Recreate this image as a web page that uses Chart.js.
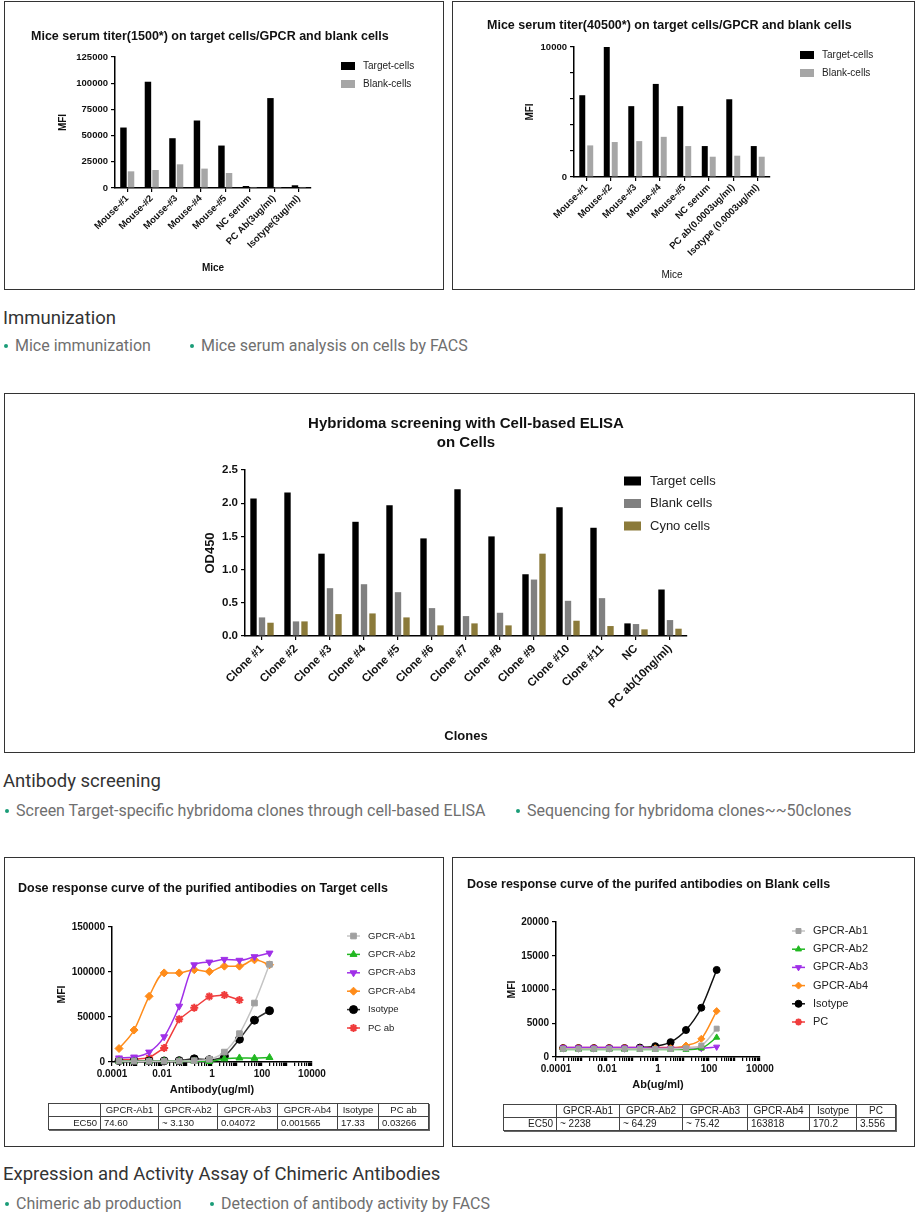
<!DOCTYPE html>
<html>
<head>
<meta charset="utf-8">
<script src="https://cdn.jsdelivr.net/npm/chart.js@4.4.1/dist/chart.umd.min.js"></script>
<style>
  body { margin: 0; background: #fff; font-family: Roboto, 'Noto Sans', sans-serif; }
  #page { position: relative; width: 919px; height: 1218px; overflow: hidden; }
  .panel { position: absolute; box-sizing: border-box; border: 1px solid #333; background: #fff; }
  .panel canvas { position: absolute; left: 0; top: 0; }
  .ctitle { position: absolute; font: bold 12.5px 'Liberation Sans', Arial, sans-serif; color: #111; white-space: nowrap; line-height: 16px; }
  .sec { position: absolute; left: 3px; font-size: 18.5px; color: #333; line-height: 22px; white-space: nowrap; }
  .bul { position: absolute; font-size: 16px; color: #6f6f6f; line-height: 20px; white-space: nowrap; }
  .bul::before { content: ''; display: inline-block; width: 4px; height: 4px; border-radius: 50%; background: #1a9c78; margin-right: 7px; vertical-align: middle; position: relative; top: -1px; }
  table.ec { position: absolute; border-collapse: collapse; table-layout: fixed; font: 9.5px 'Liberation Sans', Arial, sans-serif; color: #222; border: 1.5px solid #222; box-shadow: 1px 1px 0 #666; }
  table.ec td { border: 1px solid #444; height: 12px; line-height: 12px; padding: 0 3px; white-space: nowrap; overflow: hidden; }
  table.ec tr:first-child td { text-align: center; }
  table.ec td.rh { text-align: right; }
</style>
</head>
<body>
<div id="page">
  <div class="panel" style="left:4px;top:1px;width:440px;height:289px"><canvas id="c1" width="438" height="287"></canvas></div>
  <div class="ctitle" style="left:31px;top:28px">Mice serum titer(1500*) on target cells/GPCR and blank cells</div>

  <div class="panel" style="left:452px;top:1px;width:463px;height:289px"><canvas id="c2" width="461" height="287"></canvas></div>
  <div class="ctitle" style="left:487px;top:17px">Mice serum titer(40500*) on target cells/GPCR and blank cells</div>

  <div class="sec" style="top:307px">Immunization</div>
  <span class="bul" style="left:4px;top:336px">Mice immunization</span>
  <span class="bul" style="left:190px;top:336px">Mice serum analysis on cells by FACS</span>

  <div class="panel" style="left:4px;top:393px;width:911px;height:360px"><canvas id="c3" width="909" height="358"></canvas></div>
  <div class="ctitle" style="left:216px;top:413px;width:500px;text-align:center;font-size:15px;line-height:19px">Hybridoma screening with Cell-based ELISA<br>on Cells</div>

  <div class="sec" style="top:770px">Antibody screening</div>
  <span class="bul" style="left:5px;top:801px">Screen Target-specific hybridoma clones through cell-based ELISA</span>
  <span class="bul" style="left:516px;top:801px">Sequencing for hybridoma clones~~50clones</span>

  <div class="panel" style="left:4px;top:857px;width:440px;height:290px"><canvas id="c4" width="438" height="288"></canvas></div>
  <div class="ctitle" style="left:18px;top:880px">Dose response curve of the purified antibodies on Target cells</div>
  <table class="ec" id="t4" style="left:48px;top:1103px;width:380px"></table>

  <div class="panel" style="left:452px;top:857px;width:463px;height:290px"><canvas id="c5" width="461" height="288"></canvas></div>
  <div class="ctitle" style="left:467px;top:876px">Dose response curve of the purifed antibodies on Blank cells</div>
  <table class="ec" id="t5" style="left:503px;top:1104px;width:392px;font-size:10px"></table>

  <div class="sec" style="top:1163px">Expression and Activity Assay of Chimeric Antibodies</div>
  <span class="bul" style="left:5px;top:1194px">Chimeric ab production</span>
  <span class="bul" style="left:210px;top:1194px">Detection of antibody activity by FACS</span>
</div>

<script>
// ---- data ----
const miceLabels1500 = ['Mouse-#1', 'Mouse-#2', 'Mouse-#3', 'Mouse-#4', 'Mouse-#5', 'NC serum', 'PC Ab(3ug/ml)', 'Isotype(3ug/ml)'];
const target1500 = [57700, 101400, 47500, 64400, 40500, 1900, 85800, 2600];
const blank1500 = [15900, 17200, 22600, 18500, 14300, 1000, 1000, 1000];
const mfiTicks1500 = ['0', '25000', '50000', '75000', '100000', '125000'];

const miceLabels40500 = ['Mouse-#1', 'Mouse-#2', 'Mouse-#3', 'Mouse-#4', 'Mouse-#5', 'NC serum', 'PC ab(0.0003ug/ml)', 'Isotype (0.0003ug/ml)'];
const target40500 = [6290, 10000, 5450, 7160, 5450, 2380, 5980, 2380];
const blank40500 = [2430, 2690, 2760, 3090, 2380, 1560, 1640, 1560];

const clones = ['Clone #1', 'Clone #2', 'Clone #3', 'Clone #4', 'Clone #5', 'Clone #6', 'Clone #7', 'Clone #8', 'Clone #9', 'Clone #10', 'Clone #11', 'NC', 'PC ab(10ng/ml)'];
const odTarget = [2.07, 2.16, 1.24, 1.72, 1.97, 1.47, 2.21, 1.50, 0.93, 1.94, 1.63, 0.19, 0.70];
const odBlank = [0.28, 0.22, 0.72, 0.78, 0.66, 0.42, 0.30, 0.35, 0.85, 0.53, 0.57, 0.18, 0.24];
const odCyno = [0.20, 0.22, 0.33, 0.34, 0.28, 0.16, 0.19, 0.16, 1.24, 0.23, 0.15, 0.10, 0.11];
const odTicks = ['0.0', '0.5', '1.0', '1.5', '2.0', '2.5'];

// antibody concentration series (ug/ml), lowest to highest
const doses = [0.000191, 0.000763, 0.00305, 0.0122, 0.0488, 0.195, 0.781, 3.125, 12.5, 50, 200];
const logTickLabels = ['0.0001', '0.01', '1', '100', '10000'];

const tgtAb1 = [1000, 900, 800, 900, 1000, 1500, 3000, 11000, 31500, 65500, 108500];
const tgtAb2 = [800, 700, 700, 800, 800, 900, 600, 3500, 4500, 4200, 5000];
const tgtAb3 = [4500, 5500, 11000, 28000, 62000, 108000, 111000, 114000, 113000, 117000, 121000];
const tgtAb4 = [15000, 35500, 73000, 99000, 99000, 102500, 100500, 106500, 106500, 113500, 108000];
const tgtIso = [1500, 1500, 1200, 1200, 1500, 3500, 2500, 6500, 25300, 46500, 57000];
const tgtPC = [2500, 3000, 4500, 15600, 47600, 60300, 72900, 74400, 68800, null, null];

const blkAb1 = [1200, 1200, 1200, 1200, 1200, 1200, 1200, 1200, 1300, 1700, 4200];
const blkAb2 = [1100, 1100, 1100, 1100, 1100, 1100, 1100, 1100, 1100, 1300, 2900];
const blkAb3 = [1400, 1400, 1400, 1400, 1400, 1400, 1300, 1300, 1300, 1300, 1500];
const blkAb4 = [1300, 1300, 1300, 1300, 1300, 1300, 1300, 1300, 1700, 2700, 6800];
const blkIso = [1300, 1300, 1300, 1300, 1300, 1400, 1600, 2200, 4000, 7300, 12900];
const blkPC = [1400, 1400, 1400, 1400, 1400, 1400, 1400, 1400, 1400, 1400, null];

const ec50Heads4 = ['GPCR-Ab1', 'GPCR-Ab2', 'GPCR-Ab3', 'GPCR-Ab4', 'Isotype', 'PC ab'];
const ec50Target = ['74.60', '~ 3.130', '0.04072', '0.001565', '17.33', '0.03266'];
const ec50Heads5 = ['GPCR-Ab1', 'GPCR-Ab2', 'GPCR-Ab3', 'GPCR-Ab4', 'Isotype', 'PC'];
const ec50Blank = ['~ 2238', '~ 64.29', '~ 75.42', '163818', '170.2', '3.556'];

// ---- shared setup ----
Chart.defaults.font.family = "'Liberation Sans', Arial, sans-serif";
Chart.defaults.color = '#111';
Chart.defaults.animation = false;

const ARIAL = "'Liberation Sans', Arial, sans-serif";

// legend drawn at a fixed spot beside the plot, from the datasets themselves
const sideLegend = {
  id: 'sideLegend',
  afterDraw(chart, args, o) {
    const ctx = chart.ctx;
    ctx.save();
    ctx.font = o.fontStr;
    ctx.textBaseline = 'middle';
    ctx.textAlign = 'left';
    chart.data.datasets.forEach((ds, i) => {
      const y = o.y + i * o.rowH;
      if (o.kind === 'box') {
        ctx.fillStyle = ds.backgroundColor;
        ctx.fillRect(o.x, y - o.boxH / 2, o.boxW, o.boxH);
      } else {
        ctx.strokeStyle = ds.borderColor;
        ctx.lineWidth = ds.borderWidth;
        ctx.beginPath();
        ctx.moveTo(o.x, y);
        ctx.lineTo(o.x + o.boxW, y);
        ctx.stroke();
        ctx.fillStyle = ds.pointBackgroundColor;
        ctx.strokeStyle = ds.pointBorderColor;
        ctx.lineWidth = ds.pointBorderWidth;
        Chart.helpers.drawPoint(ctx, {
          pointStyle: ds.pointStyle, rotation: ds.pointRotation || 0,
          radius: ds.pointRadius, borderWidth: ds.pointBorderWidth
        }, o.x + o.boxW / 2, y);
      }
      ctx.fillStyle = '#222';
      ctx.fillText(ds.label, o.textX, y);
    });
    ctx.restore();
  }
};

function axis(extra) {
  return Object.assign({
    border: { display: true, color: '#000', width: 1.5 },
    grid: { display: true, drawOnChartArea: false, drawTicks: true, tickLength: 4, color: '#000', lineWidth: 1.2, offset: false },
  }, extra);
}

function titleOpt(text, size, pad, bold) {
  return { display: true, text: text, color: '#111', font: { size: size, weight: bold === false ? 'normal' : 'bold' }, padding: pad };
}

// ---- Chart 1: titer 1500x ----
new Chart(document.getElementById('c1'), {
  type: 'bar',
  data: {
    labels: miceLabels1500,
    datasets: [
      { label: 'Target-cells', data: target1500, backgroundColor: '#000' },
      { label: 'Blank-cells', data: blank1500, backgroundColor: '#a6a6a6' }
    ]
  },
  options: {
    responsive: false,
    layout: { padding: { top: 55, right: 132, left: 0, bottom: 0 } },
    datasets: { bar: { barPercentage: 0.85, categoryPercentage: 0.62 } },
    plugins: {
      legend: { display: false }, tooltip: { enabled: false },
      sideLegend: { kind: 'box', x: 336, boxW: 14, boxH: 8, textX: 358, y: 64, rowH: 18, fontStr: '10px ' + ARIAL }
    },
    scales: {
      x: axis({
        ticks: { autoSkip: false, minRotation: 45, maxRotation: 45, padding: 1, color: '#111', font: { size: 9.5, weight: 'bold' } },
        title: titleOpt('Mice', 10, { top: 0, bottom: 15 }),
        afterFit: s => { s.height = 101; }
      }),
      y: axis({
        min: 0, max: 125000,
        ticks: { stepSize: 25000, padding: 3, color: '#111', font: { size: 9.5, weight: 'bold' }, callback: (v, i) => mfiTicks1500[i] },
        title: titleOpt('MFI', 10, { top: 52, bottom: 0 }),
        afterFit: s => { s.width = 110; }
      })
    }
  },
  plugins: [sideLegend]
});

// ---- Chart 2: titer 40500x ----
new Chart(document.getElementById('c2'), {
  type: 'bar',
  data: {
    labels: miceLabels40500,
    datasets: [
      { label: 'Target-cells', data: target40500, backgroundColor: '#000' },
      { label: 'Blank-cells', data: blank40500, backgroundColor: '#a6a6a6' }
    ]
  },
  options: {
    responsive: false,
    layout: { padding: { top: 45, right: 144, left: 0, bottom: 0 } },
    datasets: { bar: { barPercentage: 0.75, categoryPercentage: 0.65 } },
    plugins: {
      legend: { display: false }, tooltip: { enabled: false },
      sideLegend: { kind: 'box', x: 347, boxW: 14, boxH: 8, textX: 369, y: 53, rowH: 18, fontStr: '10px ' + ARIAL }
    },
    scales: {
      x: axis({
        ticks: { autoSkip: false, minRotation: 45, maxRotation: 45, padding: 1, color: '#111', font: { size: 9.5, weight: 'bold' } },
        title: titleOpt('Mice', 10, { top: 0, bottom: 8 }, false),
        afterFit: s => { s.height = 112; }
      }),
      y: axis({
        min: 0, max: 10000,
        ticks: { stepSize: 1000, padding: 3, color: '#111', font: { size: 9.5, weight: 'bold' }, callback: v => (v % 5000 === 0 ? String(v) : '') },
        title: titleOpt('MFI', 10, { top: 71, bottom: 0 }),
        afterFit: s => { s.width = 121; }
      })
    }
  },
  plugins: [sideLegend]
});

// ---- Chart 3: hybridoma ELISA ----
new Chart(document.getElementById('c3'), {
  type: 'bar',
  data: {
    labels: clones,
    datasets: [
      { label: 'Target cells', data: odTarget, backgroundColor: '#000' },
      { label: 'Blank cells', data: odBlank, backgroundColor: '#808080' },
      { label: 'Cyno cells', data: odCyno, backgroundColor: '#8b7a3a' }
    ]
  },
  options: {
    responsive: false,
    layout: { padding: { top: 76, right: 227, left: 0, bottom: 0 } },
    datasets: { bar: { barPercentage: 0.75, categoryPercentage: 0.75 } },
    plugins: {
      legend: { display: false }, tooltip: { enabled: false },
      sideLegend: { kind: 'box', x: 619, boxW: 17, boxH: 9, textX: 645, y: 87, rowH: 22.5, fontStr: '13px ' + ARIAL }
    },
    scales: {
      x: axis({
        ticks: { autoSkip: false, minRotation: 45, maxRotation: 45, padding: 2, color: '#111', font: { size: 11.5, weight: 'bold' } },
        title: titleOpt('Clones', 13, { top: 0, bottom: 8 }),
        afterFit: s => { s.height = 116; }
      }),
      y: axis({
        min: 0, max: 2.5,
        ticks: { stepSize: 0.5, padding: 3, color: '#111', font: { size: 11.5, weight: 'bold' }, callback: (v, i) => odTicks[i] },
        title: titleOpt('OD450', 13, { top: 198, bottom: 0 }),
        afterFit: s => { s.width = 240; }
      })
    }
  },
  plugins: [sideLegend]
});

// ---- dose response helpers ----
function pts(vals) {
  return doses.map((d, i) => ({ x: d, y: vals[i] }));
}

function logTicks() {
  const out = [];
  for (let e = -4; e <= 3; e++) {
    for (let m = 1; m <= 9; m++) out.push(parseFloat((m * Math.pow(10, e)).toPrecision(3)));
  }
  out.push(10000);
  return out.map(v => ({ value: v }));
}

function logLabel(v) {
  const hit = logTickLabels.find(l => Math.abs(parseFloat(l) - v) < v * 1e-6);
  return hit || '';
}

function series(label, vals, line, mark, style, r, extra) {
  return Object.assign({
    label: label, data: pts(vals),
    borderColor: line, backgroundColor: mark, borderWidth: 1.5,
    pointStyle: style, pointRadius: r, pointBackgroundColor: mark, pointBorderColor: mark, pointBorderWidth: 1,
    cubicInterpolationMode: 'monotone', clip: false
  }, extra || {});
}

function doseChart(id, sets, o) {
  return new Chart(document.getElementById(id), {
    type: 'line',
    data: { datasets: sets },
    options: {
      responsive: false,
      layout: { padding: { top: o.top, right: o.right, left: 0, bottom: 0 } },
      plugins: {
        legend: { display: false }, tooltip: { enabled: false },
        sideLegend: { kind: 'line', x: o.legX, boxW: 13, textX: o.legTextX, y: o.legY, rowH: o.legRow, fontStr: o.legFont + 'px ' + ARIAL }
      },
      scales: {
        x: axis({
          type: 'logarithmic', min: 0.0001, max: 10000,
          afterBuildTicks: s => { s.ticks = logTicks(); },
          ticks: { autoSkip: false, maxRotation: 0, padding: 2, color: '#111', font: { size: 10, weight: 'bold' }, callback: v => logLabel(v) },
          title: titleOpt(o.xTitle, 11, { top: 0, bottom: o.xPad }),
          afterFit: s => { s.height = o.xH; }
        }),
        y: axis({
          min: 0, max: o.yMax,
          ticks: { stepSize: o.yStep, padding: 3, color: '#111', font: { size: 10, weight: 'bold' }, callback: v => String(v) },
          title: titleOpt('MFI', 10.5, { top: o.yPad, bottom: 0 }),
          afterFit: s => { s.width = o.yW; }
        })
      }
    },
    plugins: [sideLegend]
  });
}

// ---- Chart 4: target cells ----
doseChart('c4', [
  series('GPCR-Ab1', tgtAb1, '#c4c4c4', '#a0a0a0', 'rect', 4),
  series('GPCR-Ab2', tgtAb2, '#22b822', '#22b822', 'triangle', 4),
  series('GPCR-Ab3', tgtAb3, '#a030e8', '#a030e8', 'triangle', 4, { pointRotation: 180 }),
  series('GPCR-Ab4', tgtAb4, '#ff8c1a', '#ff8c1a', 'rectRot', 4),
  series('Isotype', tgtIso, '#333', '#000', 'circle', 4),
  series('PC ab', tgtPC, '#f03c3c', '#f03c3c', 'star', 4, { cubicInterpolationMode: 'default', tension: 0, pointBorderWidth: 2 })
], {
  top: 69, right: 131, yW: 107, yPad: 51, xH: 84, xPad: 49, yMax: 150000, yStep: 50000,
  xTitle: 'Antibody(ug/ml)', legX: 342, legTextX: 363, legY: 78, legRow: 18.4, legFont: 9.5
});

// ---- Chart 5: blank cells ----
doseChart('c5', [
  series('GPCR-Ab1', blkAb1, '#c4c4c4', '#a0a0a0', 'rect', 3.5),
  series('GPCR-Ab2', blkAb2, '#22b822', '#22b822', 'triangle', 3.5),
  series('GPCR-Ab3', blkAb3, '#a030e8', '#a030e8', 'triangle', 3.5, { pointRotation: 180 }),
  series('GPCR-Ab4', blkAb4, '#ff8c1a', '#ff8c1a', 'rectRot', 3.5),
  series('Isotype', blkIso, '#111', '#000', 'circle', 3.5),
  series('PC', blkPC, '#f03c3c', '#f03c3c', 'star', 3.5, { cubicInterpolationMode: 'default', tension: 0, pointBorderWidth: 2 })
], {
  top: 64, right: 154, yW: 103, yPad: 52.7, xH: 89, xPad: 54.4, yMax: 20000, yStep: 5000,
  xTitle: 'Ab(ug/ml)', legX: 339, legTextX: 360, legY: 73, legRow: 18.2, legFont: 11
});

// ---- EC50 tables ----
function fillTable(id, heads, vals, widths) {
  const t = document.getElementById(id);
  const cg = document.createElement('colgroup');
  widths.forEach(w => { const c = document.createElement('col'); c.style.width = w + 'px'; cg.appendChild(c); });
  t.appendChild(cg);
  const r1 = t.insertRow();
  r1.insertCell().textContent = '';
  heads.forEach(h => { r1.insertCell().textContent = h; });
  const r2 = t.insertRow();
  const c0 = r2.insertCell();
  c0.textContent = 'EC50';
  c0.className = 'rh';
  vals.forEach(v => { r2.insertCell().textContent = v; });
}
fillTable('t4', ec50Heads4, ec50Target, [52, 58, 59, 60, 60, 41, 50]);
fillTable('t5', ec50Heads5, ec50Blank, [53, 63, 63, 65, 62, 47, 39]);
</script>
</body>
</html>
